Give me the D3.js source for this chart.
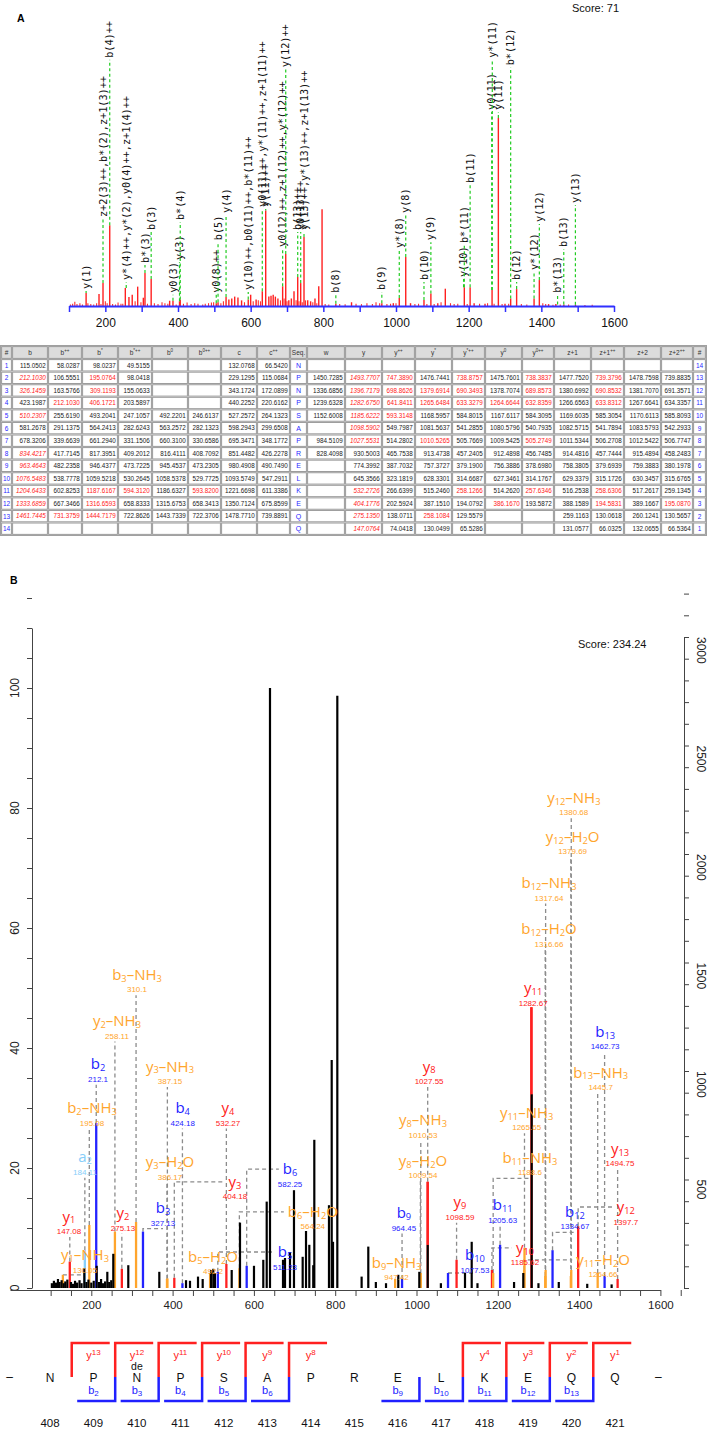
<!DOCTYPE html>
<html><head><meta charset="utf-8">
<script src="https://cdnjs.cloudflare.com/ajax/libs/d3/7.8.5/d3.min.js"></script>
<style>html,body{margin:0;padding:0;background:#fff;} svg{display:block;font-family:"Liberation Sans",Arial,sans-serif;}</style>
</head><body>
<svg id="chart" width="709" height="1443"></svg>
<script>
// ===================== DATA =====================
// Panel A : Mascot-like spectrum (m/z, relative intensity %)
const peaksA = [
 [147.08,6.9],[182.6,6.4],[193.6,12.2],[212.10,43],[255,9.6],[265,4.8],[274,6],[289,10.3],[304.6,4.4],
 [309.12,17.6],[326.15,14.4],[377,2.8],[386.17,2.8],[404.18,2.5],[406.17,3.5],[505.27,1.5],[510.23,2],
 [532.27,4.8],[540,3.5],[548,4],[556,5],[565,4.5],[575,3],[593.31,3.5],[600,6],[615,3.5],[632,7.8],[641.4,50.8],
 [650,5],[656,5.5],[662,6],[668,5],[675,4],[688,10.5],[696.5,27.7],[705,3],[712,4],[719.3,7.8],[729.5,15.4],
 [737.7,12.2],[746.8,36.7],[757,3],[765,2.5],[777,4],[787.4,10.5],[796.5,51.4],[834.42,1.2],[877.6,2],
 [961,1.5],[992.6,1.5],[1009,4.3],[1026.8,26],[1040,1.5],[1077,3.2],[1096,6.6],[1115,1.5],[1135.7,9.2],
 [1188,10],[1204,10],[1215,1.5],[1245,1.2],[1264.4,8.5],[1281.7,100],[1300,1.2],[1315.6,4],[1332,9],
 [1380,4],[1394.5,13.8],[1420,1],[1440,1],[1462,0.8],[1494,0.7]
];
const noiseA = [
 [104,0.8],[110,1.2],[116,2.2],[122,1],[130,1.5],[137,0.8],[152,1.4],[160,1],[168,0.8],[176,1.5],[188,1],
 [200,2.5],[205,1.5],[220,1],[228,0.8],[235,1.8],[243,1.2],[248,1.2],[282,2.5],[298,2],[316,1.2],[335,1.5],
 [345,1],[356,2],[364,1.5],[372,1.2],[395,0.8],[415,1.2],[425,1.8],[436,1],[446,1.5],[455,1.2],[468,0.8],
 [475,1.2],[484,1.5],[492,1.8],[498,2],[518,1.5],[525,2.5],[583,2],[607,2.5],[621,3],[627,2.5],[682,3],[692,4],
 [700,2.5],[725,3],[733,2.5],[742,2],[751,3],[771,2],[782,1.5],[805,1],[815,0.8],[845,1],[860,0.9],[890,1.2],
 [905,1],[920,1.5],[935,1],[945,2],[955,1.5],[975,1],[985,1.2],[1000,1.5],[1052,1],[1062,1.2],[1085,1],
 [1105,1],[1124,2],[1150,1.5],[1160,1],[1170,1.2],[1196,1],[1230,1.2],[1252,1.5],[1270,1.2],[1292,1],
 [1310,1.2],[1345,1],[1360,0.8],[1404,1.5],[1412,1],[1432,0.7],[1452,0.8],[1475,0.8],[1520,0.5],[1540,0.6]
];
// labels : text, m/z, intensity where the leader starts
const labelsA = [
 ["y(1)",147.08,6.9],["z+2(3)++,b*(2),z+1(3)++",193.6,12.2],["b(4)++",212.10,43],
 ["y*(4)++,y*(2),y0(4)++,z+1(4)++",257.5,9.6],["b*(3)",309.12,17.6],["b(3)",326.15,14.4],
 ["y0(3)",386.17,2.8],["y(3)",404.18,2.5],["b*(4)",406.17,3.5],["y0(8)++",505.27,1.5],["b(5)",510.23,2],
 ["y(4)",532.27,4.8],["y(10)++,b0(11)++,b*(11)++",593.31,3.5],["y0(11)++,y*(11)++,z+1(11)++",632,7.8],
 ["y(11)++",641.4,50.8],["y0(12)++,z+1(12)++,y*(12)++",688,10.5],["y(12)++",696.5,27.7],
 ["b(13)++",729.5,15.4],["y0(13)++",737.7,12.2],["y(13)++,y*(13)++,z+1(13)++",746.8,36.7],
 ["b(8)",834.42,1.2],["b(9)",961,1.5],["y*(8)",1009,4.3],["y(8)",1026.8,26],["b(10)",1077,3.2],
 ["y(9)",1096,6.6],["y(10)",1186,10],["b*(11)",1188,10],["b(11)",1204,10],["y0(11)",1263.5,8.5],
 ["y*(11)",1265,8.5],["y(11)",1281.7,100],["b*(12)",1315.6,4],["b(12)",1332,9],["y*(12)",1380,4],
 ["y(12)",1394.5,13.8],["b*(13)",1444.72,0.8],["b(13)",1461.74,0.8],["y(13)",1493.77,0.7]
];
// label bottom heights (same intensity units)
const labelBaseA = [9,47.3,132,13.8,22.9,40.4,7,24.5,45.7,7,35,49.5,8.5,52.7,52.7,31.4,127,40.4,40.4,40.4,
 7,8.5,30.9,49.5,13.8,35,15.4,33.5,65.4,104.3,132,104.3,128,13.8,19.1,44.7,7,31.4,54.8];
const ticksA = [100,200,300,400,500,600,700,800,900,1000,1100,1200,1300,1400,1500,1600];

// Table
const tableHeaders = ["#","b","b++","b*","b*++","b0","b0++","c","c++","Seq.","w","y","y++","y*","y*++","y0","y0++","z+1","z+1++","z+2","z+2++","#"];
const tableRows = [
 ["115.0502","58.0287","98.0237","49.5155","","","132.0768","66.5420","N","","","","","","","","","","",""],
 ["212.1030","106.5551","195.0764","98.0418","","","229.1295","115.0684","P","1450.7285","1493.7707","747.3890","1476.7441","738.8757","1475.7601","738.3837","1477.7520","739.3796","1478.7598","739.8835"],
 ["326.1459","163.5766","309.1193","155.0633","","","343.1724","172.0899","N","1336.6856","1396.7179","698.8626","1379.6914","690.3493","1378.7074","689.8573","1380.6992","690.8532","1381.7070","691.3571"],
 ["423.1987","212.1030","406.1721","203.5897","","","440.2252","220.6162","P","1239.6328","1282.6750","641.8411","1265.6484","633.3279","1264.6644","632.8359","1266.6563","633.8312","1267.6641","634.3357"],
 ["510.2307","255.6190","493.2041","247.1057","492.2201","246.6137","527.2572","264.1323","S","1152.6008","1185.6222","593.3148","1168.5957","584.8015","1167.6117","584.3095","1169.6035","585.3054","1170.6113","585.8093"],
 ["581.2678","291.1375","564.2413","282.6243","563.2572","282.1323","598.2943","299.6508","A","","1098.5902","549.7987","1081.5637","541.2855","1080.5796","540.7935","1082.5715","541.7894","1083.5793","542.2933"],
 ["678.3206","339.6639","661.2940","331.1506","660.3100","330.6586","695.3471","348.1772","P","984.5109","1027.5531","514.2802","1010.5265","505.7669","1009.5425","505.2749","1011.5344","506.2708","1012.5422","506.7747"],
 ["834.4217","417.7145","817.3951","409.2012","816.4111","408.7092","851.4482","426.2278","R","828.4098","930.5003","465.7538","913.4738","457.2405","912.4898","456.7485","914.4816","457.7444","915.4894","458.2483"],
 ["963.4643","482.2358","946.4377","473.7225","945.4537","473.2305","980.4908","490.7490","E","","774.3992","387.7032","757.3727","379.1900","756.3886","378.6980","758.3805","379.6939","759.3883","380.1978"],
 ["1076.5483","538.7778","1059.5218","530.2645","1058.5378","529.7725","1093.5749","547.2911","L","","645.3566","323.1819","628.3301","314.6687","627.3461","314.1767","629.3379","315.1726","630.3457","315.6765"],
 ["1204.6433","602.8253","1187.6167","594.3120","1186.6327","593.8200","1221.6698","611.3386","K","","532.2726","266.6399","515.2460","258.1266","514.2620","257.6346","516.2538","258.6306","517.2617","259.1345"],
 ["1333.6859","667.3466","1316.6593","658.8333","1315.6753","658.3413","1350.7124","675.8599","E","","404.1776","202.5924","387.1510","194.0792","386.1670","193.5872","388.1589","194.5831","389.1667","195.0870"],
 ["1461.7445","731.3759","1444.7179","722.8626","1443.7339","722.3706","1478.7710","739.8891","Q","","275.1350","138.0711","258.1084","129.5579","","","259.1163","130.0618","260.1241","130.5657"],
 ["","","","","","","","","Q","","147.0764","74.0418","130.0499","65.5286","","","131.0577","66.0325","132.0655","66.5364"]
];
// matched (red) cells : column numbers per row (1 = b ... 20 = z+2++)
const redCells = [[],[1,3,11,12,14,16,18],[1,3,11,12,13,14,16,18],[2,3,11,12,13,14,15,16,18],[1,11,12],[11],[11,13,16],[1],[1],[1],[1,3,4,6,11,14,16,18],[1,3,11,15,18,20],[1,2,3,11,13],[11]];

// Panel B : annotated spectrum
const blackPeaksB = [
 [103,0.8],[108,1.2],[113,0.9],[118,1.5],[122,1.0],[127,1.3],[132,0.8],[136,1.1],[141,1.4],[150,1.0],[155,0.7],
 [160,1.2],[165,0.9],[171,1.3],[176,0.8],[182.8,3.3],[188,1.0],[193,1.4],[200,0.9],[206,1.2],[213.3,3.7],[219,1.0],
 [224,1.5],[229,0.8],[234,1.1],[239.4,2.7],[244,1.0],[249,1.3],[254.1,5.7],[291,3.8],[367.3,2.7],[433,1.3],
 [442.8,1.2],[462.5,1.9],[474,1.5],[494.5,3.0],[500.1,3.2],[504,2.5],[545.4,3.0],[565.8,10.9],[600.2,3.7],
 [623.1,4.7],[631.5,14.4],[639.6,100],[671.6,4.7],[676.5,5.0],[688.8,6.0],[698.6,16.3],[720,5.2],[728.2,9.5],
 [736.3,7.2],[746,3.8],[748.6,24.7],[784.7,13.8],[791.4,38],[794.6,7.7],[805.2,98.7],[865,1.9],[881.4,6.9],
 [900,1.0],[925,0.8],[955.2,2.2],[1006.9,2.7],[1027.6,7.2],[1060,0.8],[1119.3,2.5],[1135.8,7.7],[1150,0.8],
 [1240,1.0],[1262.7,2.5],[1283.4,32.3],[1300,0.8],[1350,1.0],[1420,0.7],[1480,0.6]
];
// labelled fragment ions: name, m/z text, ion type, peak m/z, peak intensity
const ionsB = [
 ["y1","147.08","y",147.08,4.4],["y1-NH3","130.05","n",130.05,2.2],["a2","184.11","a",184.11,6.3],
 ["b2-NH3","195.08","n",195.08,10.5],["b2","212.1","b",212.1,27.5],["y2-NH3","258.11","n",258.11,9.4],
 ["y2","275.13","y",275.13,3.2],["b3-NH3","310.1","n",310.1,11],["b3","327.13","b",327.13,9.4],
 ["y3-NH3","387.15","n",387.15,1.6],["y3-H2O","386.17","n",386.17,1.5],["b4","424.18","b",424.18,0.8],
 ["y4","532.27","y",532.27,4.0],["y3","404.18","y",404.18,1.7],["b5-H2O","492.2","n",492.2,2.5],
 ["b6","582.25","b",582.25,3.7],["b6-H2O","564.24","n",564.24,3.3],["b5","511.23","b",511.23,2.7],
 ["b9-NH3","947.42","n",947.42,1.5],["b9","964.45","b",964.45,1.5],["y8-H2O","1009.54","n",1009.54,2],
 ["y8-NH3","1010.53","n",1010.53,2.5],["y8","1027.55","y",1027.55,17.7],["y9","1098.59","y",1098.59,4.7],
 ["b10","1077.53","b",1077.53,2.5],["b11","1205.63","b",1205.63,7.2],["y10","1185.62","y",1185.62,3.0],
 ["b11-NH3","1188.6","n",1188.6,2.5],["y11-NH3","1265.65","n",1265.65,6.7],["y11","1282.67","y",1282.67,46.8],
 ["b12","1334.67","b",1334.67,6.3],["b12-H2O","1316.66","n",1316.66,2],["b12-NH3","1317.64","n",1317.64,3],
 ["y12-H2O","1379.69","n",1379.69,2],["y12-NH3","1380.68","n",1380.68,3],["y11-H2O","1264.66","n",1264.66,3],
 ["b13-NH3","1445.7","n",1445.7,2.5],["b13","1462.73","b",1462.73,2.0],["y12","1397.7","y",1397.7,10.3],
 ["y13","1494.75","y",1494.75,1.5]
];
// label placement for ionsB: label centre m/z, label height (%), leader kind
const ionPlaceB = [
 [145,11.9,"v"],[184.5,5.5,"b"],[184.5,21.8,"v"],[201.7,30,"v"],[216.5,37.3,"v"],[263.2,44.5,"v"],
 [278,12.5,"v"],[312.4,52.2,"v"],[376.4,13.3,"b"],[393.6,36.9,"v"],[393.6,21,"v"],[424.8,30,"v"],
 [536.3,30,"v"],[553.5,17.7,"s"],[499.4,5.2,"v"],[689,19.8,"s"],[745,12.7,"s"],[676.5,6,"s"],
 [951,4.2,"v"],[969,12.5,"v"],[1016,21.2,"v"],[1016,28,"v"],[1031,36.9,"v"],[1107,14.3,"v"],
 [1144,5.5,"b"],[1212,13.8,"v"],[1267,6.7,"s"],[1279,21.7,"b"],[1271,29.2,"v"],[1287,50,"v"],
 [1390,12.7,"b"],[1326,59.8,"v"],[1326,67.5,"v"],[1384,75.2,"v"],[1387,81.7,"v"],[1459,4.7,"s"],
 [1453,35.9,"v"],[1464,42.7,"v"],[1515,13.5,"s"],[1500.6,23.2,"v"]
];
const ticksBx = [100,150,200,250,300,350,400,450,500,550,600,650,700,750,800,850,900,950,1000,1050,1100,1150,1200,1250,1300,1350,1400,1450,1500,1550,1600,1650];
const ticksBxLab = [200,400,600,800,1000,1200,1400,1600];
const ticksBleft = [0,5,10,15,20,25,30,35,40,45,50,55,60,65,70,75,80,85,90,95,100,105,110,115];
const ticksBleftLab = [0,20,40,60,80,100];
const ticksBright = [0,100,200,300,400,500,600,700,800,900,1000,1100,1200,1300,1400,1500,1600,1700,1800,1900,2000,2100,2200,2300,2400,2500,2600,2700,2800,2900,3000,3100,3200];
const ticksBrightLab = [500,1000,1500,2000,2500,3000];

// Sequence coverage
const seqResidues = ["N","P","N","P","S","A","P","R","E","L","K","E","Q","Q"];
const seqNumbers = [408,409,410,411,412,413,414,415,416,417,418,419,420,421];
const yIonsSeq = [13,12,11,10,9,8,4,3,2,1];
const bIonsSeq = [2,3,4,5,6,9,10,11,12,13];

// ===================== DRAW =====================
const svg = d3.select("#chart");
const RED="#ff2020", BLUE="#2323ff", ORANGE="#ffa52c", LBLUE="#87cefa", GREEN="#22cc22", GRAY="#8c8c8c";

// ---------- Panel A ----------
const gA = svg.append("g");
gA.append("text").attr("x",17).attr("y",22).style("font-weight","bold").style("font-size","10.5px").text("A");
gA.append("text").attr("x",572).attr("y",12).style("font-size","11px").attr("fill","#111").text("Score: 71");
const xA = d3.scaleLinear().domain([100,1600]).range([69,614]);
const yA = d3.scaleLinear().domain([0,100]).range([306,118]);
gA.selectAll("line.nz").data(noiseA).join("line").attr("class","nz")
  .attr("x1",d=>xA(d[0])).attr("x2",d=>xA(d[0])).attr("y1",yA(0)).attr("y2",d=>yA(d[1]))
  .attr("stroke","#ff3030").attr("stroke-width",1.1);
gA.selectAll("line.pk").data(peaksA).join("line").attr("class","pk")
  .attr("x1",d=>xA(d[0])).attr("x2",d=>xA(d[0])).attr("y1",yA(0)).attr("y2",d=>yA(d[1]))
  .attr("stroke","#ff2020").attr("stroke-width",1.4);
labelsA.forEach((l,i)=>{
  const x = xA(l[1]);
  const yb = yA(labelBaseA[i]);
  const yp = yA(l[2]);
  if (yp - yb > 2) gA.append("line").attr("x1",x).attr("x2",x).attr("y1",yp).attr("y2",yb+2)
    .attr("stroke",GREEN).attr("stroke-width",1.2).attr("stroke-dasharray","3,2.5");
  gA.append("text").attr("transform",`translate(${x},${yb}) rotate(-90)`).attr("dy","0.35em")
    .style("font-family","'DejaVu Sans Mono',monospace").style("font-size","10.2px").attr("fill","#111").text(l[0]);
});
const axA = d3.axisBottom(xA).tickValues(ticksA).tickSize(6).tickSizeOuter(0).tickFormat(d=>d%200===0?d:"");
const gax = gA.append("g").attr("transform",`translate(0,${yA(0)})`).call(axA);
gax.select(".domain").attr("stroke","#3030ff").attr("stroke-width",2);
gax.selectAll(".tick line").attr("stroke","#3030ff").attr("stroke-width",1.5);
gax.selectAll(".tick text").attr("y",12).style("font-size","12px").style("font-family","'Liberation Sans',Arial").attr("fill","#111");

// ---------- Table ----------
const colEdges = [1,12,48,82,118,152,188,221,257,290,307,345,382,415,452,485,522,554,591,624,661,693,706];
const tTop = 346, hH = 13, rH = 12.57;
const gT = svg.append("g").style("font-family","'Liberation Sans',Arial");
function cell(x0,x1,y0,h,fill){
  gT.append("rect").attr("x",x0+0.6).attr("y",y0+0.6).attr("width",x1-x0-1.2).attr("height",h-1.2)
    .attr("fill",fill).attr("stroke","#9a9a9a").attr("stroke-width",1);
}
gT.append("rect").attr("x",colEdges[0]-0.5).attr("y",tTop-0.5).attr("width",colEdges[22]-colEdges[0]+1)
  .attr("height",hH+rH*14+1).attr("fill","none").attr("stroke","#a0a0a0").attr("stroke-width",1);
tableHeaders.forEach((h,c)=>{
  cell(colEdges[c],colEdges[c+1],tTop,hH,"#dcdcdc");
  const t = gT.append("text").attr("x",(colEdges[c]+colEdges[c+1])/2).attr("y",tTop+hH/2+2.4)
    .attr("text-anchor","middle").style("font-size","6.5px").attr("fill","#333");
  if (h.startsWith("z+") || h==="Seq." || h==="#") {
    t.append("tspan").text(h.replace("++",""));
    if (h.endsWith("++")) t.append("tspan").text("++").style("font-size","4.5px").attr("dy",-2.5);
  } else {
    t.append("tspan").text(h[0]);
    const rest = h.slice(1);
    if (rest) t.append("tspan").text(rest).style("font-size","4.5px").attr("dy",-2.5);
  }
});
tableRows.forEach((row,r)=>{
  const y0 = tTop + hH + r*rH;
  cell(colEdges[0],colEdges[1],y0,rH,"#fff");
  gT.append("text").attr("x",(colEdges[0]+colEdges[1])/2).attr("y",y0+rH/2+2.4).attr("text-anchor","middle")
    .style("font-size","6.5px").attr("fill","#2a2aff").text(r+1);
  row.forEach((v,k)=>{
    const c = k+1;
    cell(colEdges[c],colEdges[c+1],y0,rH,"#fff");
    if (!v) return;
    const red = redCells[r].includes(c);
    if (c===9) {
      gT.append("text").attr("x",(colEdges[c]+colEdges[c+1])/2).attr("y",y0+rH/2+2.5).attr("text-anchor","middle")
        .style("font-size","7px").attr("fill","#2a2aff").text(v);
    } else {
      gT.append("text").attr("x",colEdges[c+1]-2.3).attr("y",y0+rH/2+2.3).attr("text-anchor","end")
        .style("font-size","6.3px").style("font-style",(red && (c===1||c===11))?"italic":"normal")
        .attr("fill",red?"#ff1a1a":"#1a1a1a").text(v);
    }
  });
  cell(colEdges[21],colEdges[22],y0,rH,"#fff");
  gT.append("text").attr("x",(colEdges[21]+colEdges[22])/2).attr("y",y0+rH/2+2.4).attr("text-anchor","middle")
    .style("font-size","6.5px").attr("fill","#2a2aff").text(14-r);
});

// ---------- Panel B ----------
const gB = svg.append("g");
gB.append("text").attr("x",10).attr("y",584).style("font-weight","bold").style("font-size","10.5px").text("B");
const xB = d3.scaleLinear().domain([0,1600]).range([10,660.4]);
const yB = d3.scaleLinear().domain([0,110]).range([1288,628]);
const yR = d3.scaleLinear().domain([0,3000]).range([1288,637]);
gB.append("text").attr("x",578).attr("y",648).style("font-size","11px").attr("fill","#111").text("Score: 234.24");

const axL = d3.axisLeft(yB).tickValues(ticksBleft).tickSize(5).tickSizeOuter(0).tickFormat("");
const gL = gB.append("g").attr("transform","translate(32,0)").call(axL);
gL.selectAll("path,line").attr("stroke","#444").attr("stroke-width",1);
gB.selectAll("text.ll").data(ticksBleftLab).join("text").attr("class","ll")
  .attr("transform",d=>`translate(18.5,${yB(d)}) rotate(-90)`).attr("text-anchor","middle")
  .style("font-size","12px").attr("fill","#222").text(d=>d);
const axR = d3.axisRight(yR).tickValues(ticksBright).tickSize(5).tickSizeOuter(0).tickFormat("");
const gR = gB.append("g").attr("transform","translate(684,0)").call(axR);
gR.selectAll("path,line").attr("stroke","#444").attr("stroke-width",1);
gB.selectAll("text.rl").data(ticksBrightLab).join("text").attr("class","rl")
  .attr("transform",d=>`translate(696.5,${yR(d)}) rotate(90)`).attr("text-anchor","start")
  .style("font-size","12px").attr("fill","#222").text(d=>d);
const axBx = d3.axisBottom(xB).tickValues(ticksBx).tickSize(6).tickSizeOuter(0)
  .tickFormat(d=>ticksBxLab.includes(d)?d:"");
const gX = gB.append("g").attr("transform","translate(0,1290)").call(axBx);
gX.selectAll("path,line").attr("stroke","#444").attr("stroke-width",1);
gX.selectAll(".tick text").attr("y",11).style("font-size","11.5px").style("font-family","'Liberation Sans',Arial").attr("fill","#222");

const ionColor = {y:RED,b:BLUE,n:ORANGE,a:LBLUE};
gB.selectAll("line.cp").data(ionsB).join("line").attr("class","cp")
  .attr("x1",d=>xB(d[3])).attr("x2",d=>xB(d[3])).attr("y1",yB(0)).attr("y2",d=>yB(d[4]))
  .attr("stroke",d=>ionColor[d[2]]).attr("stroke-width",2.3);
gB.selectAll("line.bp").data(blackPeaksB).join("line").attr("class","bp")
  .attr("x1",d=>xB(d[0])).attr("x2",d=>xB(d[0])).attr("y1",yB(0)).attr("y2",d=>yB(d[1]))
  .attr("stroke","#000").attr("stroke-width",2.2);
gB.selectAll("line.cp2").data(ionsB.filter(d=>d[2]==="y" && d[4]>15)).join("line").attr("class","cp2")
  .attr("x1",d=>xB(d[3])).attr("x2",d=>xB(d[3])).attr("y1",d=>{
     const bk = blackPeaksB.find(b=>Math.abs(b[0]-d[3])<2); return yB(bk?bk[1]:0);})
  .attr("y2",d=>yB(d[4])).attr("stroke",RED).attr("stroke-width",2.3);

function richText(g,name,x,y,size,color){
  const t = g.append("text").attr("x",x).attr("y",y).attr("text-anchor","middle").attr("fill",color)
    .style("font-family","'Open Sans','DejaVu Sans',sans-serif").style("font-size",size+"px");
  const parts = name.replace("-","\u2013").split(/(\d+)/).filter(p=>p);
  let shifted = false;
  parts.forEach(p=>{
    const sp = t.append("tspan").text(p);
    if (/^\d+$/.test(p)) { sp.style("font-size",(size*0.62)+"px"); if(!shifted){sp.attr("dy",size*0.12); shifted=true;} }
    else if (shifted) { sp.attr("dy",-size*0.12); shifted=false; }
  });
  return t;
}
const gLab = gB.append("g");
const gLead = gB.insert("g",":first-child");
ionsB.forEach((d,i)=>{
  const p = ionPlaceB[i];
  const col = ionColor[d[2]];
  const lx = xB(p[0]), ly = yB(p[1]);
  const nt = richText(gLab,d[0],lx,ly+5,15,col);
  gLab.append("text").attr("x",lx).attr("y",ly+17.5).attr("text-anchor","middle").attr("fill",col)
    .style("font-size","8px").text(d[1]);
  const px = xB(d[3]), py = yB(d[4]);
  const bottom = ly + 20.5;
  let pts;
  if (p[2]==="v") {
    if (py - bottom < 1) return;
    pts = [[px,py],[px,bottom]];
  } else if (p[2]==="b") {
    pts = py > bottom ? [[px,py],[px,bottom],[lx,bottom]] : [[px,py],[lx,py]];
  } else {
    const w = nt.node().getComputedTextLength();
    pts = [[px,py],[px,ly],[lx - w/2 - 4, ly]];
  }
  gLead.append("path").attr("d",d3.line()(pts)).attr("fill","none").attr("stroke",GRAY)
    .attr("stroke-width",1.3).attr("stroke-dasharray","4,3");
});

// ---------- Sequence coverage ----------
const gS = svg.append("g");
const xS = d3.scaleLinear().domain([0,13]).range([50,615]);
const step = xS(1)-xS(0);
const yRedTop = 1343, yMid = 1377, yBlueBot = 1401;
gS.append("text").attr("x",xS(-1)+3).attr("y",yMid+4).attr("text-anchor","middle").style("font-size","12px").text("\u2013");
gS.append("text").attr("x",xS(14)).attr("y",yMid+4).attr("text-anchor","middle").style("font-size","12px").text("\u2013");
gS.selectAll("text.res").data(seqResidues).join("text").attr("class","res")
  .attr("x",(d,i)=>xS(i)).attr("y",yMid+5).attr("text-anchor","middle").style("font-size","12px").attr("fill","#111").text(d=>d);
gS.selectAll("text.num").data(seqNumbers).join("text").attr("class","num")
  .attr("x",(d,i)=>xS(i)).attr("y",1427).attr("text-anchor","middle").style("font-size","11.5px").attr("fill","#111").text(d=>d);
yIonsSeq.forEach(n=>{
  const idx = 14-n, bx = xS(idx)-step/2;
  gS.append("path").attr("d",d3.line()([[bx,yMid],[bx,yRedTop],[bx+38,yRedTop]]))
    .attr("fill","none").attr("stroke","#ff2020").attr("stroke-width",2.5);
  const t = gS.append("text").attr("x",xS(idx)).attr("y",1359).attr("text-anchor","middle").attr("fill","#ff2020").style("font-size","11px");
  t.append("tspan").text("y"); t.append("tspan").text(n).style("font-size","8px").attr("dy",-4);
});
gS.append("text").attr("x",xS(2)).attr("y",1370).attr("text-anchor","middle").style("font-size","10.5px").attr("fill","#111").text("de");
bIonsSeq.forEach(n=>{
  const idx = n-1, bx = xS(idx)+step/2;
  gS.append("path").attr("d",d3.line()([[bx,yMid],[bx,yBlueBot],[bx-38,yBlueBot]]))
    .attr("fill","none").attr("stroke","#2020ff").attr("stroke-width",2.5);
  const t = gS.append("text").attr("x",xS(idx)).attr("y",1394).attr("text-anchor","middle").attr("fill","#2020ff").style("font-size","11px");
  t.append("tspan").text("b"); t.append("tspan").text(n).style("font-size","8px").attr("dy",2);
});
</script></body></html>
